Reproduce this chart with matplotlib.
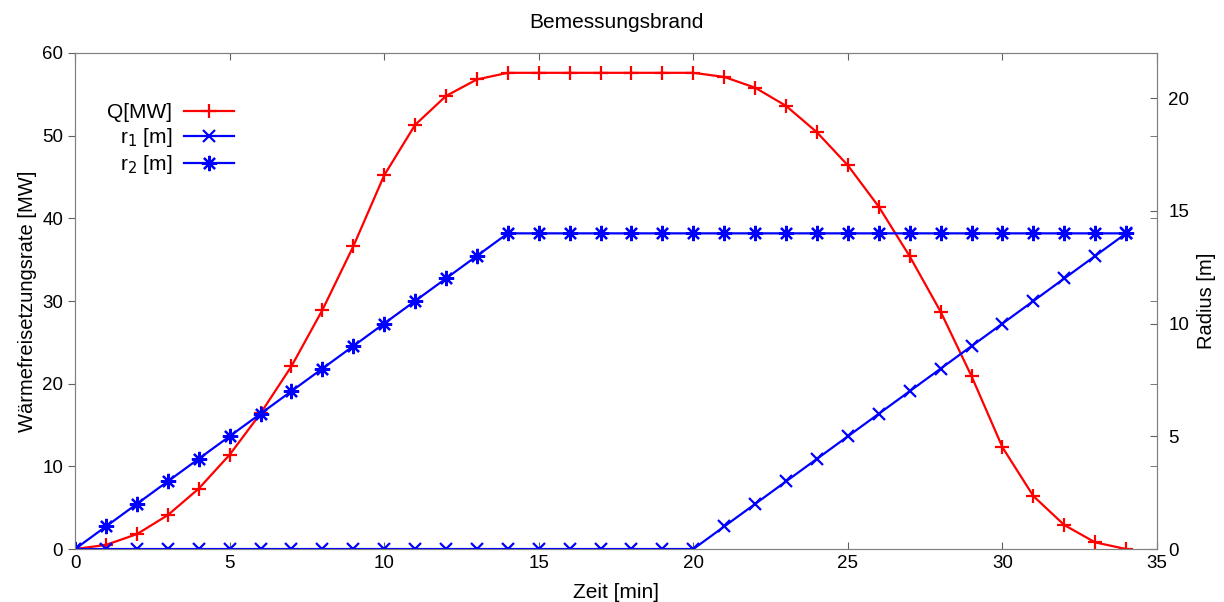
import numpy as np
import matplotlib
matplotlib.use('Agg')
from matplotlib import pyplot as plt
from matplotlib.ticker import FixedLocator

plt.rcParams['font.family'] = ['Liberation Sans', 'DejaVu Sans']

# data
t = list(range(0, 35))
Q = [0, 0.5, 1.8, 4.1, 7.3, 11.4, 16.4, 22.1, 28.9, 36.6, 45.2, 51.3, 54.8, 56.8,
     57.6, 57.6, 57.6, 57.6, 57.6, 57.6, 57.6, 57.1, 55.8, 53.6, 50.4, 46.4, 41.4,
     35.4, 28.7, 20.9, 12.3, 6.4, 2.9, 0.8, 0]
r1 = [0] * 21 + [1, 2, 3, 4, 5, 6, 7, 8, 9, 10, 11, 12, 13, 14]
r2 = [0, 1, 2, 3, 4, 5, 6, 7, 8, 9, 10, 11, 12, 13] + [14] * 21

left_ticks = [0, 10, 20, 30, 40, 50, 60]
right_ticks = [0, 5, 10, 15, 20]
x_ticks = [0, 5, 10, 15, 20, 25, 30, 35]

fig = plt.figure(figsize=(12.24, 6.02), dpi=100)
ax = fig.add_axes([0.0613, 0.088, 0.8840, 0.824])
ax2 = ax.twinx()

l1, = ax.plot(t, Q, color='#ff0000', lw=1.6, marker='+', ms=10, mew=1.6, label='Q[MW]')
l2, = ax2.plot(t, r1, color='#0000ff', lw=1.6, marker='x', ms=9, mew=1.6, label='r$_1$ [m]')
l3, = ax2.plot(t, r2, color='#0000ff', lw=1.6, marker=(8, 2, 0), ms=11, mew=1.6, label='r$_2$ [m]')

ax.set_xlim(0, 35)
ax.set_ylim(0, 60)
ax2.set_ylim(0, 22)
ax.set_xticks(x_ticks)
ax.set_yticks(left_ticks)
ax2.set_yticks(right_ticks)
ax2.yaxis.set_minor_locator(FixedLocator([v * 22 / 60 for v in left_ticks[1:-1]]))

for a in (ax, ax2):
    for s in a.spines.values():
        s.set_color('#808080')
ax.tick_params(axis='x', direction='in', top=True, length=5, color='#606060',
               labelsize=13.5, pad=4)
ax.tick_params(axis='y', direction='out', length=5, color='#606060', labelsize=13.5)
ax2.tick_params(axis='y', which='both', direction='in', length=5, color='#606060',
                labelsize=13.5, pad=8)

ax.set_title('Bemessungsbrand', fontsize=15, pad=18)
ax.set_xlabel('Zeit [min]', fontsize=15, labelpad=8)
ax.set_ylabel('Wärmefreisetzungsrate [MW]', fontsize=14.5, labelpad=4)
ax2.set_ylabel('Radius [m]', fontsize=14.5, labelpad=6)

ax.legend(handles=[l1, l2, l3], loc='upper left', bbox_to_anchor=(0.022, 0.915),
          frameon=False, markerfirst=False, fontsize=15, handlelength=2.4,
          labelspacing=0.18, handletextpad=0.58, borderaxespad=0)

fig.savefig('out.png', dpi=100)
